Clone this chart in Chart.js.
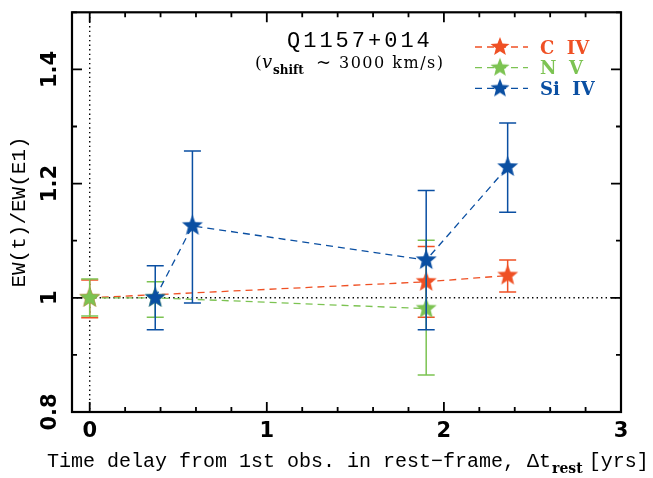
<!DOCTYPE html>
<html lang="en">
<head>
<meta charset="UTF-8">
<title>Q1157+014 EW variability</title>
<script src="https://cdn.jsdelivr.net/npm/chart.js"></script>
<style>
  body { margin: 0; background: #fff; }
  #wrap { width: 653px; height: 478px; position: relative; }
</style>
</head>
<body>
<div id="wrap"><canvas id="ewChart"></canvas></div>
<script>
// C IV
const civTime = [0, 1.90, 2.36];
const civRatio = [1.000, 1.028, 1.039];
const civLow = [0.965, 0.966, 1.010];
const civHigh = [1.031, 1.090, 1.066];

// N V
const nvTime = [0, 0.37, 1.90];
const nvRatio = [1.000, 1.000, 0.981];
const nvLow = [0.968, 0.966, 0.865];
const nvHigh = [1.033, 1.028, 1.101];

// Si IV
const siTime = [0.37, 0.58, 1.90, 2.36];
const siRatio = [1.000, 1.126, 1.066, 1.229];
const siLow = [0.944, 0.991, 0.944, 1.150];
const siHigh = [1.056, 1.257, 1.188, 1.306];

const xTickValues = [0, 1, 2, 3];
const xTickLabels = ['0', '1', '2', '3'];
const yTickValues = [0.8, 1.0, 1.2, 1.4];
const yTickLabels = ['0.8', '1', '1.2', '1.4'];

const RED = '#ef5024';
const GREEN = '#7cc352';
const BLUE = '#0a4fa2';
const STAR_R = 11;

function makeStar(color, R) {
  const c = document.createElement('canvas');
  const s = Math.ceil(R * 2) + 2;
  c.width = s;
  c.height = s;
  const g = c.getContext('2d');
  g.fillStyle = color;
  g.beginPath();
  for (let i = 0; i < 10; i++) {
    const r = i % 2 === 0 ? R : R * 0.43;
    const a = -Math.PI / 2 + i * Math.PI / 5;
    const px = s / 2 + r * Math.cos(a);
    const py = s / 2 + r * Math.sin(a);
    if (i === 0) g.moveTo(px, py); else g.lineTo(px, py);
  }
  g.closePath();
  g.fill();
  return c;
}

function series(label, xs, ys, lo, hi, color, order) {
  return {
    label: label,
    order: order,
    data: xs.map((x, i) => ({ x: x, y: ys[i] })),
    errLow: lo,
    errHigh: hi,
    showLine: true,
    tension: 0,
    borderColor: color,
    backgroundColor: color,
    borderWidth: 1.3,
    borderDash: [7, 5],
    pointStyle: makeStar(color, STAR_R),
    pointRadius: STAR_R,
    pointHoverRadius: STAR_R
  };
}

// error bars go under each dataset's own line and stars
const errorBars = {
  id: 'errorBars',
  beforeDatasetDraw(chart, args) {
    const ds = chart.data.datasets[args.index];
    const x = chart.scales.x, y = chart.scales.y;
    const ctx = chart.ctx;
    ctx.save();
    ctx.strokeStyle = ds.borderColor;
    ctx.lineWidth = 1.5;
    ds.data.forEach((p, i) => {
      const px = x.getPixelForValue(p.x);
      const top = y.getPixelForValue(ds.errHigh[i]);
      const bot = y.getPixelForValue(ds.errLow[i]);
      ctx.beginPath();
      ctx.moveTo(px, top); ctx.lineTo(px, bot);
      ctx.moveTo(px - 8.5, top); ctx.lineTo(px + 8.5, top);
      ctx.moveTo(px - 8.5, bot); ctx.lineTo(px + 8.5, bot);
      ctx.stroke();
    });
    ctx.restore();
  }
};

// dotted reference lines at t = 0 and ratio = 1
const refLines = {
  id: 'refLines',
  beforeDatasetsDraw(chart) {
    const { ctx, chartArea: a, scales: { x, y } } = chart;
    ctx.save();
    ctx.strokeStyle = '#000';
    ctx.lineWidth = 1.4;
    ctx.setLineDash([1.4, 3.2]);
    const x0 = x.getPixelForValue(0);
    const y1 = y.getPixelForValue(1);
    ctx.beginPath();
    ctx.moveTo(x0, a.top); ctx.lineTo(x0, a.bottom);
    ctx.moveTo(a.left, y1); ctx.lineTo(a.right, y1);
    ctx.stroke();
    ctx.restore();
  }
};

function drawText(ctx, str, x, y, font, spacing) {
  ctx.font = font;
  ctx.letterSpacing = (spacing || 0) + 'px';
  ctx.fillText(str, x, y);
  const w = ctx.measureText(str).width;
  ctx.letterSpacing = '0px';
  return w;
}

const frame = {
  id: 'frame',
  afterDraw(chart) {
    const { ctx, chartArea: a, scales: { x, y } } = chart;
    ctx.save();
    ctx.strokeStyle = '#000';
    ctx.lineWidth = 2.2;
    ctx.strokeRect(a.left, a.top, a.right - a.left, a.bottom - a.top);

    // inward ticks on all four sides
    ctx.lineWidth = 1.8;
    ctx.beginPath();
    for (let k = 0; k <= 15; k++) {
      const v = k * 0.2;
      const px = x.getPixelForValue(v);
      const len = k % 5 === 0 ? 10 : 5;
      ctx.moveTo(px, a.bottom); ctx.lineTo(px, a.bottom - len);
      ctx.moveTo(px, a.top); ctx.lineTo(px, a.top + len);
    }
    for (let k = 0; k <= 7; k++) {
      const v = 0.8 + k * 0.1;
      const py = y.getPixelForValue(v);
      const len = k % 2 === 0 ? 10 : 5;
      ctx.moveTo(a.left, py); ctx.lineTo(a.left + len, py);
      ctx.moveTo(a.right, py); ctx.lineTo(a.right - len, py);
    }
    ctx.stroke();

    ctx.fillStyle = '#000';
    ctx.textBaseline = 'middle';
    ctx.textAlign = 'center';
    ctx.font = 'bold 21px "DejaVu Sans"';
    xTickValues.forEach((v, i) => {
      ctx.fillText(xTickLabels[i], x.getPixelForValue(v), a.bottom + 20);
    });
    yTickValues.forEach((v, i) => {
      ctx.save();
      ctx.translate(a.left - 21, y.getPixelForValue(v));
      ctx.rotate(-Math.PI / 2);
      ctx.fillText(yTickLabels[i], 0, 0);
      ctx.restore();
    });

    // y axis title
    ctx.save();
    ctx.translate(19, 212);
    ctx.rotate(-Math.PI / 2);
    ctx.font = '21px "Liberation Mono"';
    ctx.fillText('EW(t)/EW(E1)', 0, 0);
    ctx.restore();

    // x axis title
    ctx.textAlign = 'left';
    ctx.textBaseline = 'alphabetic';
    let tx = 47;
    tx += drawText(ctx, 'Time delay from 1st obs. in rest\u2212frame, \u0394t', tx, 467, '20px "Liberation Mono"');
    tx += 1;
    tx += drawText(ctx, 'rest', tx, 473, 'bold 14px "DejaVu Serif"');
    drawText(ctx, '[yrs]', tx + 6, 467, '20px "Liberation Mono"');

    // object name and outflow velocity
    drawText(ctx, 'Q1157+014', 287, 47, '22px "Liberation Mono"', 3);
    drawText(ctx, '(', 255, 68, '17px "DejaVu Serif"');
    drawText(ctx, 'v', 262, 68, 'italic 18px "DejaVu Serif"');
    drawText(ctx, 'shift', 273, 74, 'bold 12px "DejaVu Serif"');
    drawText(ctx, '~', 316, 68, '18px "DejaVu Serif"');
    drawText(ctx, '3000 km/s)', 339, 68, '16px "DejaVu Serif"', 1.5);

    // legend
    const rows = [['C  IV', RED], ['N  V', GREEN], ['Si  IV', BLUE]];
    rows.forEach((r, i) => {
      const ly = 47 + i * 20.7;
      ctx.strokeStyle = r[1];
      ctx.lineWidth = 1.3;
      ctx.setLineDash([7, 5]);
      ctx.beginPath();
      ctx.moveTo(475, ly); ctx.lineTo(528, ly);
      ctx.stroke();
      ctx.setLineDash([]);
      const star = makeStar(r[1], 10);
      ctx.drawImage(star, 500 - star.width / 2, ly - star.height / 2);
      ctx.fillStyle = r[1];
      ctx.textBaseline = 'middle';
      drawText(ctx, r[0], 540, ly + 2, 'bold 18px "DejaVu Serif"');
      ctx.textBaseline = 'alphabetic';
    });
    ctx.restore();
  }
};

new Chart(document.getElementById('ewChart'), {
  type: 'scatter',
  data: {
    datasets: [
      series('C IV', civTime, civRatio, civLow, civHigh, RED, 3),
      series('N V', nvTime, nvRatio, nvLow, nvHigh, GREEN, 2),
      series('Si IV', siTime, siRatio, siLow, siHigh, BLUE, 1)
    ]
  },
  options: {
    responsive: true,
    maintainAspectRatio: false,
    animation: false,
    devicePixelRatio: 1,
    layout: { padding: { left: 72, top: 7, right: 32, bottom: 66 } },
    scales: {
      x: { type: 'linear', min: -0.1, max: 3, display: false },
      y: { type: 'linear', min: 0.8, max: 1.5, display: false }
    },
    plugins: {
      legend: { display: false },
      tooltip: { enabled: false }
    }
  },
  plugins: [refLines, errorBars, frame]
});
</script>
</body>
</html>
